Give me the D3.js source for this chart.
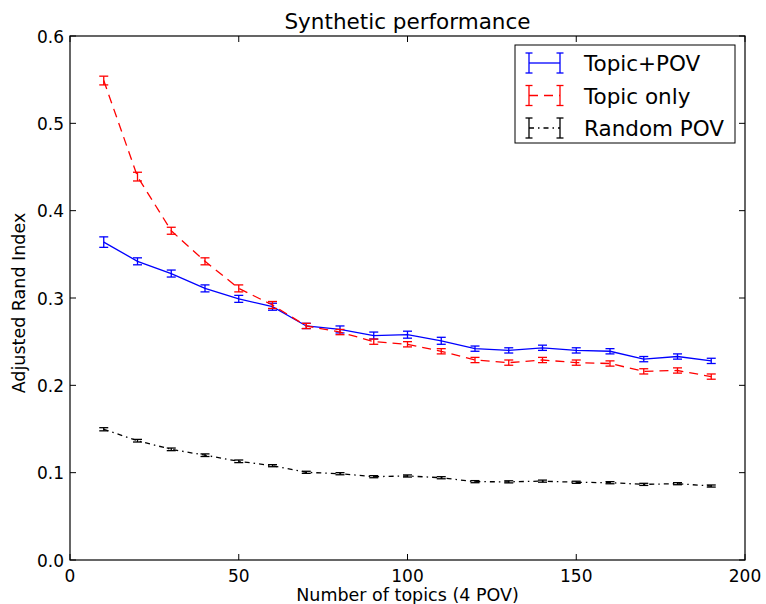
<!DOCTYPE html>
<html><head><meta charset="utf-8">
<script src="https://cdn.jsdelivr.net/npm/d3@7"></script>
<style>body{margin:0;background:#fff}svg{font-family:"DejaVu Sans",sans-serif}</style>
</head><body><svg id="c" width="766" height="604"></svg>
<script>
const xs = [10,20,30,40,50,60,70,80,90,100,110,120,130,140,150,160,170,180,190];
const topicPov = [0.364,0.342,0.328,0.311,0.299,0.290,0.268,0.264,0.257,0.258,0.251,0.242,0.240,0.243,0.240,0.239,0.230,0.233,0.228];
const topicPovErr = [0.006,0.004,0.004,0.004,0.004,0.004,0.003,0.004,0.004,0.004,0.004,0.003,0.003,0.003,0.003,0.003,0.003,0.003,0.003];
const topicOnly = [0.549,0.439,0.377,0.342,0.311,0.292,0.268,0.261,0.250,0.247,0.239,0.229,0.226,0.229,0.226,0.225,0.216,0.217,0.210];
const topicOnlyErr = [0.005,0.005,0.004,0.004,0.004,0.004,0.003,0.003,0.003,0.003,0.003,0.003,0.003,0.003,0.003,0.003,0.003,0.003,0.003];
const randomPov = [0.1497,0.1366,0.1267,0.1200,0.1130,0.1080,0.1004,0.0988,0.0954,0.0962,0.0942,0.0897,0.0895,0.0903,0.0890,0.0885,0.0866,0.0874,0.0847];
const randomPovErr = [0.0018,0.0015,0.0015,0.0015,0.0015,0.0012,0.0012,0.0012,0.0012,0.0012,0.0012,0.0012,0.0012,0.0012,0.0012,0.0012,0.0012,0.0012,0.0012];
const xTicks = [0,50,100,150,200];
const yTicks = [0.0,0.1,0.2,0.3,0.4,0.5,0.6];
const seriesNames = ["Topic+POV","Topic only","Random POV"];

const svg = d3.select("#c");
const L=70,R=745,T=36,B=560;
const x = d3.scaleLinear().domain([0,200]).range([L,R]);
const y = d3.scaleLinear().domain([0,0.6]).range([B,T]);

const series = [
  {name:seriesNames[0], v:topicPov, e:topicPovErr, color:"#0000ff", dash:null, cap:4.5},
  {name:seriesNames[1], v:topicOnly, e:topicOnlyErr, color:"#ff0000", dash:"9,6", cap:4.5},
  {name:seriesNames[2], v:randomPov, e:randomPovErr, color:"#000000", dash:"5,4,1.5,4", cap:4.5}
];

const line = d3.line().x((d,i)=>x(xs[i])).y(d=>y(d));
series.forEach(s=>{
  svg.append("path").attr("d",line(s.v)).attr("fill","none").attr("stroke",s.color)
    .attr("stroke-width",1.3).attr("stroke-dasharray",s.dash);
  const g = svg.append("g").attr("stroke",s.color).attr("stroke-width",1.3);
  s.v.forEach((v,i)=>{
    const cx=x(xs[i]), y1=y(v+s.e[i]), y2=y(v-s.e[i]);
    g.append("line").attr("x1",cx).attr("x2",cx).attr("y1",y1).attr("y2",y2);
    g.append("line").attr("x1",cx-s.cap).attr("x2",cx+s.cap).attr("y1",y1).attr("y2",y1);
    g.append("line").attr("x1",cx-s.cap).attr("x2",cx+s.cap).attr("y1",y2).attr("y2",y2);
  });
});

// frame
svg.append("rect").attr("x",L).attr("y",T).attr("width",R-L).attr("height",B-T)
  .attr("fill","none").attr("stroke","#000").attr("stroke-width",1.2);

// ticks inward
const tk=svg.append("g").attr("stroke","#000").attr("stroke-width",1);
xTicks.forEach(t=>{
  tk.append("line").attr("x1",x(t)).attr("x2",x(t)).attr("y1",B).attr("y2",B-6);
  tk.append("line").attr("x1",x(t)).attr("x2",x(t)).attr("y1",T).attr("y2",T+6);
});
yTicks.forEach(t=>{
  tk.append("line").attr("x1",L).attr("x2",L+6).attr("y1",y(t)).attr("y2",y(t));
  tk.append("line").attr("x1",R).attr("x2",R-6).attr("y1",y(t)).attr("y2",y(t));
});
xTicks.forEach(t=>{
  svg.append("text").attr("x",x(t)).attr("y",B+22).attr("text-anchor","middle")
    .attr("font-size",17).text(d3.format("d")(t));
});
yTicks.forEach(t=>{
  svg.append("text").attr("x",L-6).attr("y",y(t)+6.5).attr("text-anchor","end")
    .attr("font-size",17).text(d3.format(".1f")(t));
});

svg.append("text").attr("x",(L+R)/2).attr("y",29).attr("text-anchor","middle")
  .attr("font-size",21.5).text("Synthetic performance");
svg.append("text").attr("x",(L+R)/2).attr("y",601).attr("text-anchor","middle")
  .attr("font-size",17.5).text("Number of topics (4 POV)");
svg.append("text").attr("transform",`translate(25,${(T+B)/2+5}) rotate(-90)`).attr("text-anchor","middle")
  .attr("font-size",17.5).text("Adjusted Rand Index");

// legend
const lg=svg.append("g");
lg.append("rect").attr("x",515).attr("y",45).attr("width",220).attr("height",98)
  .attr("fill","#fff").attr("stroke","#000").attr("stroke-width",1);
series.forEach((s,i)=>{
  const yy=63+i*32.5, x1=529, x2=560;
  const g=lg.append("g").attr("stroke",s.color).attr("stroke-width",1.3);
  g.append("line").attr("x1",x1).attr("x2",x2).attr("y1",yy).attr("y2",yy).attr("stroke-dasharray",s.dash);
  [x1,x2].forEach(px=>{
    g.append("line").attr("x1",px).attr("x2",px).attr("y1",yy-10).attr("y2",yy+10);
    g.append("line").attr("x1",px-3.5).attr("x2",px+3.5).attr("y1",yy-10).attr("y2",yy-10);
    g.append("line").attr("x1",px-3.5).attr("x2",px+3.5).attr("y1",yy+10).attr("y2",yy+10);
  });
  lg.append("text").attr("x",584).attr("y",yy+8).attr("font-size",21.5).text(s.name);
});
</script></body></html>
